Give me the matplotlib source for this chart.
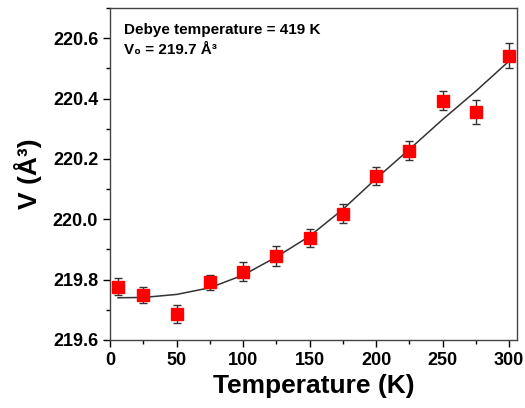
import matplotlib
matplotlib.use("Agg")
import matplotlib.pyplot as plt
from matplotlib.ticker import MultipleLocator

# measured cell volume vs temperature
temps = [6, 25, 50, 75, 100, 125, 150, 175, 200, 225, 250, 275, 300]
volume = [219.776, 219.749, 219.686, 219.791, 219.826, 219.878, 219.938,
          220.019, 220.145, 220.228, 220.393, 220.355, 220.542]
vol_err = [0.028, 0.028, 0.029, 0.026, 0.031, 0.034, 0.030,
           0.032, 0.030, 0.033, 0.031, 0.040, 0.041]

# Debye model fit
fit_t = [6, 25, 50, 75, 100, 125, 150, 175, 200, 225, 250, 275, 300]
fit_v = [219.740, 219.741, 219.751, 219.773, 219.815, 219.875, 219.944,
         220.033, 220.135, 220.232, 220.331, 220.425, 220.525]

plt.rcParams['font.family'] = ['Liberation Sans', 'DejaVu Sans']
plt.rcParams['font.weight'] = 'bold'

fig = plt.figure(figsize=(5.25, 4.08), dpi=100)
ax = fig.add_axes([0.2095, 0.1667, 0.7755, 0.8133])

ax.plot(fit_t, fit_v, color='#333333', lw=1.1, zorder=2)
ax.errorbar(temps, volume, yerr=vol_err, fmt='s', color='red', ms=8.5,
            ecolor='#333333', elinewidth=1.0, capsize=3, capthick=1.0, zorder=3)

ax.set_xlim(0, 306)
ax.set_ylim(219.6, 220.7)
ax.xaxis.set_major_locator(MultipleLocator(50))
ax.xaxis.set_minor_locator(MultipleLocator(25))
ax.yaxis.set_major_locator(MultipleLocator(0.2))
ax.yaxis.set_minor_locator(MultipleLocator(0.1))
ax.tick_params(which='major', direction='out', length=5, width=1, labelsize=13)
ax.tick_params(which='minor', direction='out', length=3, width=1)
ax.tick_params(top=False, right=False, which='both')
for lab in ax.get_xticklabels() + ax.get_yticklabels():
    lab.set_fontweight('bold')
for s in ax.spines.values():
    s.set_color('#444444')
    s.set_linewidth(1.0)

ax.set_xlabel("Temperature (K)", fontsize=19, fontweight='bold', labelpad=4)
ax.set_ylabel("V (Å³)", fontsize=19, fontweight='bold', labelpad=8)

ax.text(0.035, 0.955, "Debye temperature = 419 K", transform=ax.transAxes,
        fontsize=11, fontweight='bold', va='top', ha='left')
ax.text(0.035, 0.895, "V₀ = 219.7 Å³", transform=ax.transAxes,
        fontsize=11, fontweight='bold', va='top', ha='left')

fig.savefig("out.png", dpi=100)
